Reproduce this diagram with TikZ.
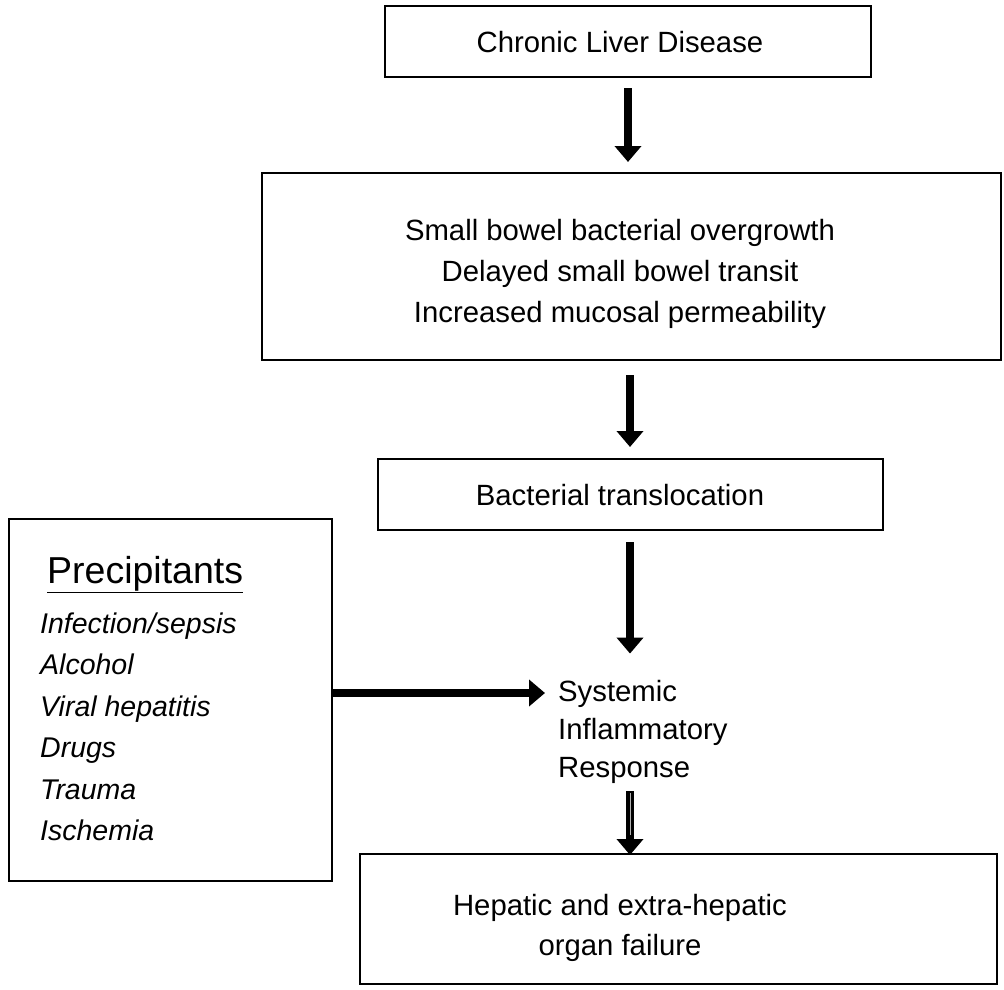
\documentclass[tikz,border=0pt]{standalone}
\usepackage{fontspec}
\setmainfont{Liberation Sans}
\usetikzlibrary{arrows.meta}
\begin{document}
\begin{tikzpicture}[x=1pt,y=-1pt,
  box/.style={draw=black, line width=2pt, inner sep=0pt, anchor=north west},
  txt/.style={font=\fontsize{29.3}{41}\selectfont, inner sep=0pt, anchor=base},
  itxt/.style={font=\fontsize{28.5}{41}\selectfont\itshape, inner sep=0pt, anchor=base west},
  bigarrow/.style={line width=8pt, -{Triangle[length=16pt,width=26pt]}},
]
\useasboundingbox (0,0) rectangle (1004,990);
% boxes
\node[box, minimum width=486pt, minimum height=71pt] (cld) at (384,5) {};
\node[box, minimum width=739pt, minimum height=187pt] (sbb) at (261,172) {};
\node[box, minimum width=505pt, minimum height=71pt] (bt) at (377,458) {};
\node[box, line width=1.6pt, minimum width=323pt, minimum height=362pt] (pr) at (8,518) {};
\node[box, minimum width=637pt, minimum height=130pt] (hof) at (359,853) {};
% texts
\node[txt] (cldt) at (620,53) {Chronic Liver Disease};
\node[txt] (sbb1) at (620,240) {Small bowel bacterial overgrowth};
\node[txt] (sbb2) at (620,281) {Delayed small bowel transit};
\node[txt] (sbb3) at (620,322) {Increased mucosal permeability};
\node[txt] (btt) at (620,505) {Bacterial translocation};
\node[txt, anchor=base west] (sir1) at (558,701) {Systemic};
\node[txt, anchor=base west] (sir2) at (558,739) {Inflammatory};
\node[txt, anchor=base west] (sir3) at (558,777) {Response};
\node[txt] (hof1) at (620,915) {Hepatic and extra-hepatic};
\node[txt] (hof2) at (620,955) {organ failure};
\node[inner sep=0pt, anchor=base west, font=\fontsize{37.5}{40}\selectfont] (prt) at (47,583) {\underline{Precipitants}};
\node[itxt] (p1) at (40,633) {Infection/sepsis};
\node[itxt] (p2) at (40,674) {Alcohol};
\node[itxt] (p3) at (40,716) {Viral hepatitis};
\node[itxt] (p4) at (40,757) {Drugs};
\node[itxt] (p5) at (40,799) {Trauma};
\node[itxt] (p6) at (40,840) {Ischemia};
% arrow columns
\coordinate (c1) at (628,0);
\coordinate (c2) at (630,0);
\coordinate (ay) at (0,693);
% arrows
\draw[bigarrow] ([yshift=-10pt]cld.south -| c1) -- ([yshift=10pt]sbb.north -| c1);
\draw[bigarrow] ([yshift=-14pt]sbb.south -| c2) -- ([yshift=11pt]bt.north -| c2);
\draw[bigarrow] ([yshift=-11pt]bt.south -| c2) -- ([yshift=26pt]sir1.north -| c2);
\draw[bigarrow] (pr.east |- ay) -- ([xshift=-13pt]sir1.west |- ay);
\draw[bigarrow] ([yshift=-8pt]sir3.south -| c2) -- ([yshift=-2pt]hof.north -| c2);
\draw[gray!60, line width=1pt] ([yshift=-10pt]sir3.south -| c2) -- ([yshift=18pt]hof.north -| c2);
\end{tikzpicture}
\end{document}
